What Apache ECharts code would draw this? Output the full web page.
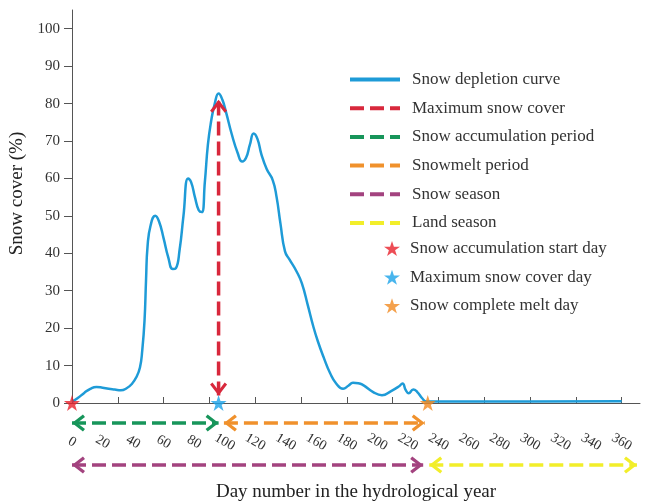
<!DOCTYPE html>
<html>
<head>
<meta charset="utf-8">
<script src="https://cdn.jsdelivr.net/npm/echarts@6/dist/echarts.min.js"></script>
<style>
html,body{margin:0;padding:0;background:#ffffff;}
#chart{width:645px;height:504px;}
</style>
</head>
<body>
<div id="chart"></div>
<script>
// ---- data ----
const days  = [0, 4, 8, 12, 16, 20, 24, 28, 32, 36, 39, 42, 44.5, 46, 47.5, 48.5, 49.5, 51.5, 54.5, 57, 60, 63, 66, 68, 70.5, 73, 76, 78, 80.5, 83, 85, 87, 89, 91, 93.5, 96, 98.5, 101, 104.5, 108.5, 111.5, 114, 116.5, 119, 121.5, 124, 127.5, 131.5, 134, 136.5, 139.5, 142.5, 147, 150.5, 154.5, 158, 161, 165, 169, 173, 177.5, 181, 184, 187.5, 191, 197, 203, 209, 214, 216.5, 218.5, 220.5, 223.5, 226, 229.5, 232, 240, 300, 360];
const cover = [0.3, 1.4, 2.7, 3.8, 4.3, 4.1, 3.8, 3.6, 3.4, 4.0, 5.0, 6.8, 9.5, 14, 22, 33, 42, 47.5, 50, 48.5, 44, 39, 35.8, 36, 41, 50, 60, 59, 55, 51.5, 51, 59, 69, 75, 80, 82.7, 81, 77.5, 72, 66.8, 64.5, 65.5, 69, 72, 70.5, 66.5, 62.5, 59.5, 55, 48, 40.5, 38.3, 35.2, 32, 26, 20.5, 16.5, 12, 8, 5.2, 3.8, 4.6, 5.4, 5.3, 4.7, 3.0, 2.1, 3.2, 4.4, 5.2, 3.5, 2.6, 3.6, 3.0, 1.2, 0.4, 0.4, 0.4, 0.5];

const xTickValues  = [0, 30, 60, 90, 120, 150, 180, 210, 240, 270, 300, 330, 360];
const xLabelValues = [0, 20, 40, 60, 80, 100, 120, 140, 160, 180, 200, 220, 240, 260, 280, 300, 320, 340, 360];
const yTickValues  = [0, 10, 20, 30, 40, 50, 60, 70, 80, 90, 100];

const lineNames = ['Snow depletion curve', 'Maximum snow cover', 'Snow accumulation period', 'Snowmelt period', 'Snow season', 'Land season'];
const starNames = ['Snow accumulation start day', 'Maximum snow cover day', 'Snow complete melt day'];
const starDays  = [0, 96, 233];

const maxDay = 96;
const maxArrowRange = [2, 81];

const rowNames   = ['season', 'period'];
const arrowNames = ['Snow accumulation period', 'Snowmelt period', 'Snow season', 'Land season'];
const arrowRows  = ['period', 'period', 'season', 'season'];
const arrowFrom  = [0, 99.5, 0, 234];
const arrowTo    = [96, 231, 230, 370];

// ---- styles ----
const FONT = 'Liberation Serif';
const curveColor = '#1e9bd7';
const maxColor = '#d8283c';
const arrowColors = ['#17955a', '#f0912c', '#a3437f', '#f2ee2a'];
const starColors = ['#e8202a', '#1aa3e8', '#f18a21'];
const chevron = 'path://M50,0 L100,64 L86,76 L50,30 L14,76 L0,64 Z';
const starPath = 'path://M50,0 L61.8,35.1 L98.9,35.1 L68.9,56.9 L80.3,92.1 L50,70.3 L19.7,92.1 L31.1,56.9 L1.1,35.1 L38.2,35.1 Z';
const HEAD = [17, 13];
const HALF = 6.5;
const DASH = [14, 6];

function arrowEnd(pt, rot, off, color) {
  return {value: pt, symbol: chevron, symbolSize: HEAD, symbolRotate: rot, symbolOffset: off, itemStyle: {color: color}};
}

const series = [];
series.push({
  name: lineNames[0], type: 'line', xAxisIndex: 0, yAxisIndex: 0,
  data: days.map((d, i) => [d, cover[i]]),
  smooth: 0.5, symbol: 'none', color: curveColor,
  lineStyle: {color: curveColor, width: 2.5}, z: 2
});
series.push({
  name: lineNames[1], type: 'line', xAxisIndex: 0, yAxisIndex: 0, clip: false,
  symbol: 'none', showSymbol: true, color: maxColor,
  lineStyle: {color: maxColor, width: 3.5, type: DASH},
  data: [arrowEnd([maxDay, maxArrowRange[0]], 180, [0, -HALF], maxColor),
         arrowEnd([maxDay, maxArrowRange[1]], 0, [0, HALF], maxColor)],
  z: 3
});
arrowNames.forEach((nm, i) => {
  const c = arrowColors[i];
  series.push({
    name: nm, type: 'line', xAxisIndex: 1, yAxisIndex: 1, clip: false,
    symbol: 'none', showSymbol: true, color: c,
    lineStyle: {color: c, width: 3.5, type: DASH},
    data: [arrowEnd([arrowFrom[i], arrowRows[i]], 90, [HALF, 0], c),
           arrowEnd([arrowTo[i], arrowRows[i]], -90, [-HALF, 0], c)],
    z: 3
  });
});
starNames.forEach((nm, i) => {
  series.push({
    name: nm, type: 'scatter', xAxisIndex: 0, yAxisIndex: 0, clip: false,
    symbol: starPath, symbolSize: 16, color: starColors[i],
    itemStyle: {color: starColors[i]},
    data: [[starDays[i], 0]], z: 6
  });
});

const axisColor = '#555';
const option = {
  animation: false,
  backgroundColor: '#ffffff',
  textStyle: {fontFamily: FONT},
  grid: [
    {left: 72, right: 5, top: 10, bottom: 101, containLabel: false, outerBoundsMode: 'none'},
    {left: 72, right: 5, top: 402, height: 84, containLabel: false, outerBoundsMode: 'none'}
  ],
  xAxis: [
    {
      type: 'value', gridIndex: 0, min: 0, max: 372,
      name: 'Day number in the hydrological year', nameLocation: 'middle', nameGap: 89,
      nameTextStyle: {fontSize: 19, fontFamily: FONT, color: '#222', verticalAlign: 'middle'},
      axisLine: {show: true, onZero: false, lineStyle: {color: axisColor, width: 1}},
      axisTick: {show: true, inside: true, length: 6, customValues: xTickValues, lineStyle: {color: axisColor}},
      axisLabel: {show: true, customValues: xLabelValues, rotate: -30, align: 'center', verticalAlign: 'middle',
                  margin: 39, fontSize: 14, fontFamily: FONT, color: '#333'},
      splitLine: {show: false}
    },
    {type: 'value', gridIndex: 1, min: 0, max: 372, show: false}
  ],
  yAxis: [
    {
      type: 'value', gridIndex: 0, min: 0, max: 105,
      name: 'Snow cover (%)', nameLocation: 'middle', nameGap: 44,
      nameTextStyle: {fontSize: 19, fontFamily: FONT, color: '#222', verticalAlign: 'middle', padding: [0, 0, 0, 26]},
      axisLine: {show: true, onZero: false, lineStyle: {color: axisColor, width: 1}},
      axisTick: {show: true, inside: false, length: 8, customValues: yTickValues, lineStyle: {color: axisColor}},
      axisLabel: {show: true, customValues: yTickValues, margin: 12, fontSize: 15, fontFamily: FONT, color: '#333'},
      splitLine: {show: false}
    },
    {type: 'category', gridIndex: 1, data: rowNames, show: false}
  ],
  legend: [
    {
      data: lineNames, orient: 'vertical', left: 348, top: 71,
      itemWidth: 50, itemHeight: 14, itemGap: 11.7, padding: 0,
      selectedMode: false,
      itemStyle: {opacity: 0},
      lineStyle: {width: 4},
      textStyle: {fontSize: 17, fontFamily: FONT, color: '#333', padding: [0, 0, 0, 7]}
    },
    {
      data: starNames, orient: 'vertical', left: 384, top: 240,
      itemWidth: 16, itemHeight: 16, itemGap: 11.7, padding: 0,
      selectedMode: false,
      textStyle: {fontSize: 17, fontFamily: FONT, color: '#333', padding: [0, 0, 0, 5]}
    }
  ],
  series: series
};

const chart = echarts.init(document.getElementById('chart'), null, {renderer: 'canvas'});
chart.setOption(option);
</script>
</body>
</html>
